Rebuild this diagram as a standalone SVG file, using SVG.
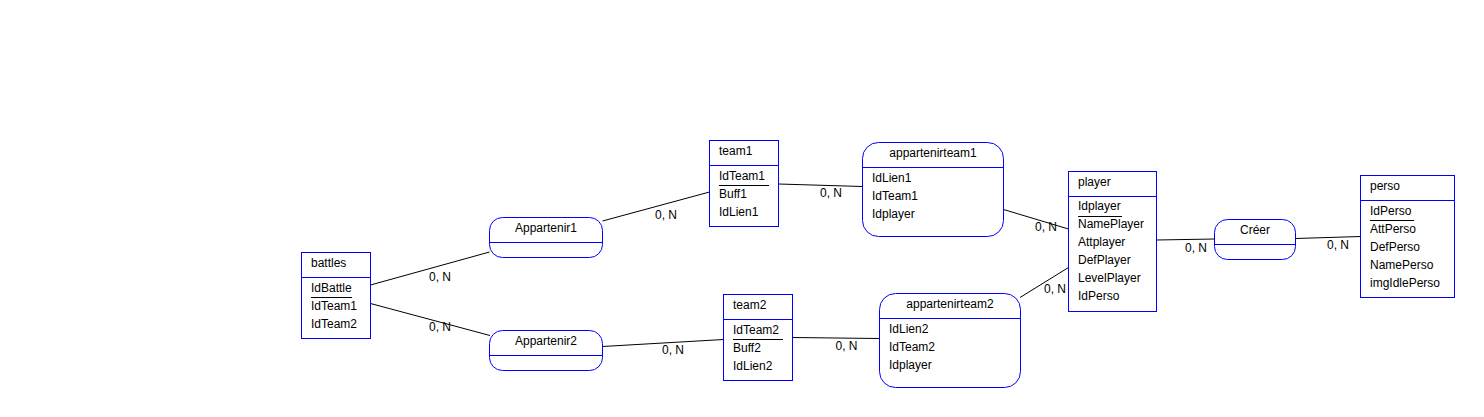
<svg xmlns="http://www.w3.org/2000/svg" width="1484" height="417" viewBox="0 0 1484 417">
<style>
.box{fill:#fff;stroke:#0000ff;stroke-width:1}
.sep{stroke:#0000ff;stroke-width:1}
.ul{stroke:#000;stroke-width:1}
text{font-family:"Liberation Sans",Arial,sans-serif;font-size:12px;fill:#000}
.c{text-anchor:middle}
.lnk{stroke:#000;stroke-width:1;fill:none}
</style>
<rect width="1484" height="417" fill="#fff"/>
<g id="connectors">
<line class="lnk" x1="370.5" y1="285" x2="489.5" y2="252"/>
<line class="lnk" x1="370.5" y1="303.5" x2="490" y2="335.5"/>
<line class="lnk" x1="602.5" y1="221" x2="709.5" y2="192"/>
<line class="lnk" x1="602.5" y1="346.5" x2="723.5" y2="339.5"/>
<line class="lnk" x1="778.5" y1="184" x2="862.5" y2="186.5"/>
<line class="lnk" x1="792.5" y1="337.5" x2="879.5" y2="338.5"/>
<line class="lnk" x1="1003.5" y1="209.5" x2="1068.5" y2="229"/>
<line class="lnk" x1="1020" y1="297.5" x2="1068.5" y2="267.5"/>
<line class="lnk" x1="1156.5" y1="240" x2="1214.5" y2="239"/>
<line class="lnk" x1="1295.5" y1="238.5" x2="1360.5" y2="236.5"/>
<text x="429" y="281">0, N</text>
<text x="429" y="331">0, N</text>
<text x="655" y="219">0, N</text>
<text x="662" y="354">0, N</text>
<text x="820" y="196.5">0, N</text>
<text x="835.5" y="350">0, N</text>
<text x="1035" y="230.5">0, N</text>
<text x="1044" y="293">0, N</text>
<text x="1185" y="251.5">0, N</text>
<text x="1327" y="249">0, N</text>
</g>
<g id="battles">
<rect class="box" x="301.5" y="252.5" width="69" height="86"/>
<line class="sep" x1="301.5" y1="277.5" x2="370.5" y2="277.5"/>
<text x="311" y="267">battles</text>
<text x="311" y="292">IdBattle</text>
<line class="ul" x1="311" y1="297.5" x2="352" y2="297.5"/>
<text x="311" y="310">IdTeam1</text>
<text x="311" y="328">IdTeam2</text>
</g>
<g id="Appartenir1">
<rect class="box" x="489.5" y="217.5" width="113" height="40" rx="13" ry="13"/>
<line class="sep" x1="489.5" y1="242.5" x2="602.5" y2="242.5"/>
<text class="c" x="546" y="232">Appartenir1</text>
</g>
<g id="Appartenir2">
<rect class="box" x="489.5" y="330.5" width="113" height="40" rx="13" ry="13"/>
<line class="sep" x1="489.5" y1="355.5" x2="602.5" y2="355.5"/>
<text class="c" x="546" y="345">Appartenir2</text>
</g>
<g id="team1">
<rect class="box" x="709.5" y="140.5" width="69" height="86"/>
<line class="sep" x1="709.5" y1="165.5" x2="778.5" y2="165.5"/>
<text x="719" y="155">team1</text>
<text x="719" y="180">IdTeam1</text>
<line class="ul" x1="719" y1="185.5" x2="769" y2="185.5"/>
<text x="719" y="198">Buff1</text>
<text x="719" y="216">IdLien1</text>
</g>
<g id="team2">
<rect class="box" x="723.5" y="294.5" width="69" height="86"/>
<line class="sep" x1="723.5" y1="319.5" x2="792.5" y2="319.5"/>
<text x="733" y="309">team2</text>
<text x="733" y="334">IdTeam2</text>
<line class="ul" x1="733" y1="339.5" x2="783" y2="339.5"/>
<text x="733" y="352">Buff2</text>
<text x="733" y="370">IdLien2</text>
</g>
<g id="appartenirteam1">
<rect class="box" x="862.5" y="142.5" width="141" height="94" rx="16" ry="16"/>
<line class="sep" x1="862.5" y1="167.5" x2="1003.5" y2="167.5"/>
<text class="c" x="933" y="157">appartenirteam1</text>
<text x="872" y="182">IdLien1</text>
<text x="872" y="200">IdTeam1</text>
<text x="872" y="218">Idplayer</text>
</g>
<g id="appartenirteam2">
<rect class="box" x="879.5" y="293.5" width="141" height="94" rx="16" ry="16"/>
<line class="sep" x1="879.5" y1="318.5" x2="1020.5" y2="318.5"/>
<text class="c" x="950" y="308">appartenirteam2</text>
<text x="889" y="333">IdLien2</text>
<text x="889" y="351">IdTeam2</text>
<text x="889" y="369">Idplayer</text>
</g>
<g id="player">
<rect class="box" x="1068.5" y="171.5" width="88" height="140"/>
<line class="sep" x1="1068.5" y1="196.5" x2="1156.5" y2="196.5"/>
<text x="1078" y="186">player</text>
<text x="1078" y="210">Idplayer</text>
<line class="ul" x1="1078" y1="216.5" x2="1122" y2="216.5"/>
<text x="1078" y="228">NamePlayer</text>
<text x="1078" y="246">Attplayer</text>
<text x="1078" y="264">DefPlayer</text>
<text x="1078" y="282">LevelPlayer</text>
<text x="1078" y="300">IdPerso</text>
</g>
<g id="Creer">
<rect class="box" x="1214.5" y="219.5" width="81" height="40" rx="13" ry="13"/>
<line class="sep" x1="1214.5" y1="244.5" x2="1295.5" y2="244.5"/>
<text class="c" x="1255" y="234">Créer</text>
</g>
<g id="perso">
<rect class="box" x="1360.5" y="175.5" width="94" height="122"/>
<line class="sep" x1="1360.5" y1="200.5" x2="1454.5" y2="200.5"/>
<text x="1370" y="190">perso</text>
<text x="1370" y="215">IdPerso</text>
<line class="ul" x1="1370" y1="220.5" x2="1414" y2="220.5"/>
<text x="1370" y="233">AttPerso</text>
<text x="1370" y="251">DefPerso</text>
<text x="1370" y="269">NamePerso</text>
<text x="1370" y="287">imgIdlePerso</text>
</g>
</svg>
